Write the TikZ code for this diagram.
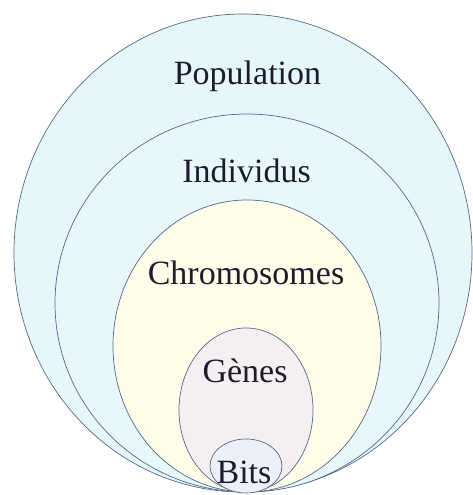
\documentclass[tikz,border=0pt]{standalone}
\usepackage{fontspec}
\setmainfont{Liberation Serif}
\usetikzlibrary{shapes.geometric}
\definecolor{popfill}{HTML}{E6F7FA}
\definecolor{indfill}{HTML}{E8F8FA}
\definecolor{chrfill}{HTML}{FDFDEA}
\definecolor{genfill}{HTML}{F4F0F2}
\definecolor{bitfill}{HTML}{ECF0F8}
\definecolor{edge}{HTML}{56678A}
\definecolor{ink}{HTML}{1C1C2C}
\begin{document}
\begin{tikzpicture}[x=1pt,y=1pt,
  ring/.style={draw=edge,line width=0.7pt},
  lbl/.style={anchor=base,inner sep=0pt,text=ink,font=\fontsize{34}{34}\selectfont}]
\useasboundingbox (0,0) rectangle (473,495);
\fill[white] (0,0) rectangle (473,495);
% pixel (px,py) -> (px, 495-py)
\draw[ring,fill=popfill] (243,242) ellipse [x radius=229,y radius=239];
\draw[ring,fill=indfill] (247,192) ellipse [x radius=192,y radius=189];
\draw[ring,fill=chrfill] (247,149) ellipse [x radius=134,y radius=146];
\draw[ring,fill=genfill] (246,85) ellipse [x radius=67,y radius=82];
\draw[ring,fill=bitfill] (246,29) ellipse [x radius=36,y radius=27];
\node[lbl] (pop) at (247.5,410) {Population};
\node[lbl] (ind) at (246.5,312) {Individus};
\node[lbl] (chr) at (246,210) {Chromosomes};
\node[lbl] (gen) at (245,112) {Gènes};
\node[lbl] (bit) at (244,12) {Bits};
\end{tikzpicture}
\end{document}
